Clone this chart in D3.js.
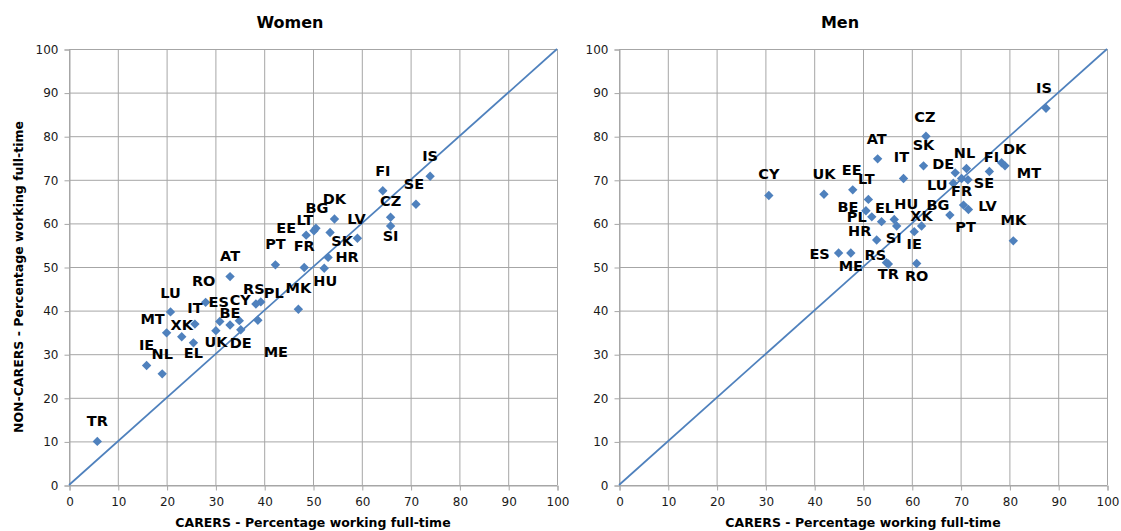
<!DOCTYPE html>
<html>
<head>
<meta charset="utf-8">
<script src="https://cdn.jsdelivr.net/npm/d3@7"></script>
<style>
  body { margin: 0; background: #fff; }
  svg { display: block; font-family: 'DejaVu Sans', Verdana, sans-serif; }
</style>
</head>
<body>
<div id="canvas"></div>
<script>
const countries = ['AT', 'BE', 'BG', 'CY', 'CZ', 'DE', 'DK', 'EE', 'EL', 'ES', 'FI', 'FR', 'HR', 'HU', 'IE', 'IS', 'IT',
  'LT', 'LU', 'LV', 'ME', 'MK', 'MT', 'NL', 'PL', 'PT', 'RO', 'RS', 'SE', 'SI', 'SK', 'TR', 'UK', 'XK'];

const womenCarers = [33.0, 33.0, 50.6, 34.9, 65.9, 35.2, 54.4, 48.6, 25.5, 30.9, 64.3, 48.2, 53.1, 52.3, 15.9, 74.0, 25.8,
  50.2, 20.8, 59.1, 38.7, 47.0, 20.0, 19.1, 39.3, 42.3, 28.0, 38.3, 71.1, 65.9, 53.5, 5.8, 30.1, 23.1];
const womenNonCarers = [47.8, 36.7, 58.9, 37.7, 61.4, 35.6, 61.0, 57.3, 32.6, 37.5, 67.5, 49.9, 52.2, 49.7, 27.4, 70.8, 36.9,
  58.3, 39.7, 56.6, 37.8, 40.3, 34.9, 25.5, 42.0, 50.5, 41.9, 41.5, 64.4, 59.4, 57.9, 10.0, 35.4, 34.0];

const menCarers = [53.0, 50.6, 67.8, 30.7, 62.9, 68.9, 78.4, 47.9, 53.8, 45.0, 75.9, 70.2, 52.8, 56.4, 60.5, 87.5, 58.3,
  51.1, 68.5, 71.6, 47.5, 80.8, 79.1, 71.2, 51.8, 70.6, 61.0, 54.8, 71.5, 56.9, 62.4, 55.2, 42.0, 62.0];
const menNonCarers = [74.8, 62.9, 61.9, 66.4, 80.0, 71.6, 73.9, 67.7, 60.4, 53.2, 71.9, 70.3, 56.2, 60.9, 58.1, 86.4, 70.3,
  65.5, 69.2, 63.2, 53.2, 56.0, 73.2, 72.6, 61.5, 64.2, 50.8, 51.0, 70.0, 59.4, 73.2, 50.7, 66.7, 59.4];

const axisTicks = [0, 10, 20, 30, 40, 50, 60, 70, 80, 90, 100];

// label placement (px from marker), as the labels were arranged by hand in the original
const womenLabelPos = {
  AT: [0, -21], BE: [0, -12], BG: [1, -20], CY: [1, -21], CZ: [0, -16], DE: [0, 13], DK: [0, -20], EE: [-20, -7],
  EL: [0, 10], ES: [-1, -20], FI: [0, -20], FR: [0, -21], HR: [19, 0], HU: [1, 13], IE: [0, -21], IS: [0, -20],
  IT: [0, -16], LT: [-9, -11], LU: [0, -19], LV: [-1, -19], ME: [18, 32], MK: [0, -21], MT: [-14, -14], NL: [0, -20],
  PL: [13, -9], PT: [0, -21], RO: [-2, -21], RS: [-2, -15], SE: [-2, -20], SI: [0, 10], SK: [12, 8], TR: [0, -20],
  UK: [0, 11], XK: [0, -12],
};
const menLabelPos = {
  AT: [-1, -20], BE: [-18, -4], BG: [-12, -10], CY: [0, -21], CZ: [-1, -19], DE: [-12, -9], DK: [13, -14], EE: [-1, -20],
  EL: [3, -14], ES: [-19, 1], FI: [2, -15], FR: [0, 13], HR: [-17, -9], HU: [12, -15], IE: [0, 12], IS: [-2, -20],
  IT: [-2, -21], LT: [-2, -20], LU: [-16, 2], LV: [19, -3], ME: [0, 13], MK: [0, -21], MT: [24, 7], NL: [-2, -15],
  PL: [-15, 0], PT: [2, 22], RO: [0, 12], RS: [-11, -8], SE: [16, 3], SI: [-3, 12], SK: [0, -21], TR: [0, 10],
  UK: [0, -20], XK: [0, -10],
};

const width = 1121;
const height = 531;
const blue = '#4f81bd';
const grid = '#a6a6a6';

const svg = d3
  .select('#canvas')
  .append('svg')
  .attr('width', width)
  .attr('height', height);

function drawPanel(opts) {
  const { left, title, carers, nonCarers, labelPos, yTitle } = opts;
  const top = 49;
  const graphWidth = 488;
  const graphHeight = 436;

  const xScale = d3.scaleLinear().domain([0, 100]).range([0, graphWidth]);
  const yScale = d3.scaleLinear().domain([0, 100]).range([graphHeight, 0]);

  const graph = svg.append('g').attr('transform', `translate(${left}, ${top})`);

  // grid
  graph
    .append('g')
    .selectAll('line')
    .data(axisTicks)
    .enter()
    .append('line')
    .attr('x1', d => xScale(d) + 0.5)
    .attr('x2', d => xScale(d) + 0.5)
    .attr('y1', 0)
    .attr('y2', graphHeight)
    .attr('stroke', grid);
  graph
    .append('g')
    .selectAll('line')
    .data(axisTicks)
    .enter()
    .append('line')
    .attr('x1', 0)
    .attr('x2', graphWidth)
    .attr('y1', d => yScale(d) + 0.5)
    .attr('y2', d => yScale(d) + 0.5)
    .attr('stroke', grid);

  const xAxis = d3.axisBottom(xScale).tickValues(axisTicks).tickSize(5).tickPadding(7);
  const yAxis = d3.axisLeft(yScale).tickValues(axisTicks).tickSize(5).tickPadding(6);

  const xAxisGroup = graph.append('g').attr('transform', `translate(0.5, ${graphHeight + 0.5})`).call(xAxis);
  const yAxisGroup = graph.append('g').attr('transform', 'translate(0.5, 0.5)').call(yAxis);

  [xAxisGroup, yAxisGroup].forEach(g => {
    g.select('.domain').attr('stroke', grid);
    g.selectAll('.tick line').attr('stroke', grid);
    g.selectAll('.tick text')
      .attr('fill', '#1a1a1a')
      .style('font-size', '12px')
      .style('font-family', "'DejaVu Sans', Verdana, sans-serif");
  });

  // diagonal
  const line = d3
    .line()
    .x(d => xScale(d))
    .y(d => yScale(d));
  graph
    .append('path')
    .attr('d', line([0, 100]))
    .attr('fill', 'none')
    .attr('stroke', blue)
    .attr('stroke-width', 1.7);

  const points = countries.map((c, i) => ({ c, x: carers[i], y: nonCarers[i] }));

  graph
    .selectAll('path.pt')
    .data(points)
    .enter()
    .append('path')
    .attr('class', 'pt')
    .attr('d', d3.symbol().type(d3.symbolSquare).size(44))
    .attr('transform', d => `translate(${xScale(d.x)}, ${yScale(d.y)}) rotate(45)`)
    .attr('fill', blue);

  graph
    .selectAll('text.lbl')
    .data(points)
    .enter()
    .append('text')
    .attr('class', 'lbl')
    .attr('x', d => xScale(d.x) + labelPos[d.c][0])
    .attr('y', d => yScale(d.y) + labelPos[d.c][1])
    .attr('text-anchor', 'middle')
    .attr('dominant-baseline', 'central')
    .style('font-size', '14.5px')
    .style('font-weight', 'bold')
    .attr('fill', '#000')
    .text(d => d.c);

  // titles
  svg
    .append('text')
    .attr('x', left + graphWidth / 2 - 23)
    .attr('y', 28)
    .attr('text-anchor', 'middle')
    .style('font-size', '16px')
    .style('font-weight', 'bold')
    .text(title);

  svg
    .append('text')
    .attr('x', left + graphWidth / 2)
    .attr('y', 527)
    .attr('text-anchor', 'middle')
    .style('font-size', '12.5px')
    .style('font-weight', 'bold')
    .text('CARERS - Percentage working full-time');

  if (yTitle) {
    svg
      .append('text')
      .attr('transform', `translate(23, ${top + graphHeight / 2 + 10}) rotate(-90)`)
      .attr('text-anchor', 'middle')
      .style('font-size', '12.5px')
      .style('font-weight', 'bold')
      .text(yTitle);
  }
}

drawPanel({
  left: 69,
  title: 'Women',
  carers: womenCarers,
  nonCarers: womenNonCarers,
  labelPos: womenLabelPos,
  yTitle: 'NON-CARERS - Percentage working full-time',
});
drawPanel({
  left: 619,
  title: 'Men',
  carers: menCarers,
  nonCarers: menNonCarers,
  labelPos: menLabelPos,
});
</script>
</body>
</html>
